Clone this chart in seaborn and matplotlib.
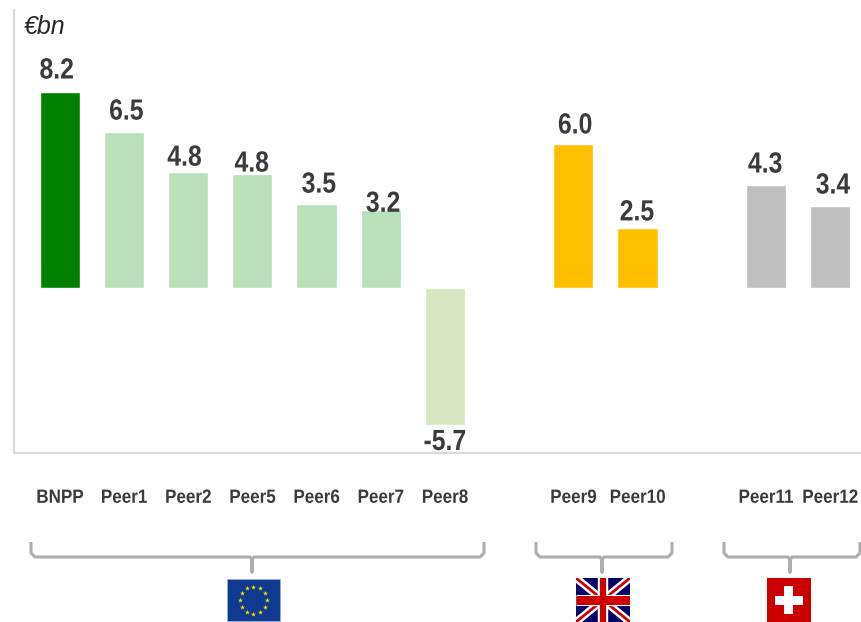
"""
Net income by bank, grouped by region: bars on top, brackets and flags below.
"""

import numpy as np
import pandas as pd
import matplotlib
matplotlib.use("Agg")
import matplotlib.pyplot as plt
from matplotlib.patches import Rectangle
from matplotlib.patheffects import AbstractPathEffect
from matplotlib.transforms import Affine2D
import seaborn as sns

EU_NAMES = ["BNPP", "Peer1", "Peer2", "Peer5", "Peer6", "Peer7", "Peer8"]
EU_VALUES = [8.2, 6.56, 4.88, 4.8, 3.54, 3.26, -5.75]
EU_LABELS = ["8.2", "6.5", "4.8", "4.8", "3.5", "3.2", "-5.7"]
UK_NAMES = ["Peer9", "Peer10"]
UK_VALUES = [6.02, 2.5]
UK_LABELS = ["6.0", "2.5"]
CH_NAMES = ["Peer11", "Peer12"]
CH_VALUES = [4.34, 3.46]
CH_LABELS = ["4.3", "3.4"]

# blank categories keep the gaps between the regions
ORDER = EU_NAMES + [" "] + UK_NAMES + ["  "] + CH_NAMES
COLORS = {
    "BNPP": "#008000", "Peer1": "#b9dfbb", "Peer2": "#b9dfbb", "Peer5": "#b9dfbb",
    "Peer6": "#b9dfbb", "Peer7": "#b9dfbb", "Peer8": "#d8e6bf",
    "Peer9": "#ffc000", "Peer10": "#ffc000", "Peer11": "#bfbfbf", "Peer12": "#bfbfbf",
}
# hand placement of the value labels in the original, in pixels
LABEL_GAPS = [14, 12, 6, 2, 11, -1.5, 3, 11, 8, 12, 12]
LABEL_SHIFTS = [-3, 2.5, -3.5, -0.5, 2.5, 2.5, 0, 2, -0.5, -0.5, 3]

TEXT = "#3b3b3b"


class Narrow(AbstractPathEffect):
    """Squeeze text sideways about its centre, no condensed font is installed."""

    def __init__(self, sx=0.85):
        super().__init__()
        self.sx = sx

    def draw_path(self, renderer, gc, tpath, affine, rgbFace=None):
        box = tpath.get_extents()
        mid = box.x0 + box.width / 2
        squeeze = Affine2D().translate(-mid, 0).scale(self.sx, 1).translate(mid, 0)
        renderer.draw_path(gc, tpath, squeeze + affine, rgbFace)


sns.set_theme(style="white")
plt.rcParams["font.family"] = ["Liberation Sans", "DejaVu Sans"]

df = pd.DataFrame({
    "name": EU_NAMES + UK_NAMES + CH_NAMES,
    "value": EU_VALUES + UK_VALUES + CH_VALUES,
    "label": EU_LABELS + UK_LABELS + CH_LABELS,
})

W, H = 862, 622
fig = plt.figure(figsize=(W / 100, H / 100), dpi=100)
ax = fig.add_axes([14 / W, 1 - 453 / H, (W - 14) / W, (453 - 10) / H])

sns.barplot(data=df, x="name", y="value", hue="name", order=ORDER,
            palette=COLORS, dodge=False, width=0.625, saturation=1,
            legend=False, ax=ax)

ax.set_xlim(-0.712, 12.498)
ax.set_ylim(-6.92, 11.66)
ax.set_xlabel("")
ax.set_ylabel("")
ax.set_yticks([])
ax.set_xticks(range(len(ORDER)))
ax.set_xticklabels(ORDER, fontsize=13.8, fontweight="bold", color=TEXT)
ax.tick_params(axis="x", length=0, pad=26.5)
for tick in ax.get_xticklabels():
    tick.set_path_effects([Narrow(0.89)])

sns.despine(ax=ax)
for side in ["left", "bottom"]:
    ax.spines[side].set_color("#d9d9d9")
    ax.spines[side].set_linewidth(1.6)

for row, gap, shift in zip(df.itertuples(), LABEL_GAPS, LABEL_SHIFTS):
    pos = ORDER.index(row.name)
    # the negative label sits on the axis line
    anchor = row.value if row.value >= 0 else ax.get_ylim()[0]
    ax.annotate(row.label, (pos, anchor), xytext=(shift * 0.72, gap * 0.72),
                textcoords="offset points", ha="center", va="baseline",
                fontsize=21, fontweight="bold", color=TEXT,
                path_effects=[Narrow()])

fig.text(24 / W, 1 - 34 / H, "€bn", fontsize=18, fontstyle="italic", color="#262626")

# overlay in pixel coordinates for the brackets and flags
over = fig.add_axes([0, 0, 1, 1], facecolor="none")
over.set_xlim(0, W)
over.set_ylim(H, 0)
over.axis("off")


def bracket(x0, x1, xm):
    top, mid, low, r = 542, 557, 572, 4
    xs = [x0, x0, x0 + r, xm - 2, xm, xm, xm, xm + 2, x1 - r, x1, x1]
    ys = [top, mid - r, mid, mid, mid + 3, low, mid + 3, mid, mid, mid - r, top]
    over.plot(xs, ys, color="#adadad", lw=2.2, solid_joinstyle="round", solid_capstyle="butt")


def eu_flag(x0, y0, x1, y1):
    over.add_patch(Rectangle((x0, y0), x1 - x0, y1 - y0, fc="#103a8f", ec="#9db2d6", lw=0.6))
    cx, cy = (x0 + x1) / 2, (y0 + y1) / 2
    ang = np.arange(12) * np.pi / 6
    over.scatter(cx + 13.5 * np.cos(ang), cy + 13.5 * np.sin(ang),
                 marker="*", s=14, color="#ffe000", linewidths=0)


def uk_flag(x0, y0, x1, y1):
    clip = Rectangle((x0, y0), x1 - x0, y1 - y0, fc="#000066", ec="none")
    over.add_patch(clip)
    cx, cy = (x0 + x1) / 2, (y0 + y1) / 2
    for xs, ys, col, lw in [
        ((x0, x1), (y0, y1), "white", 5.5),
        ((x0, x1), (y1, y0), "white", 5.5),
        ((x0, x1), (y0, y1), "#cc0000", 2),
        ((x0, x1), (y1, y0), "#cc0000", 2),
        ((x0, x1), (cy, cy), "white", 8),
        ((cx, cx), (y0, y1), "white", 7.5),
        ((x0, x1), (cy, cy), "#cc0000", 6.5),
        ((cx, cx), (y0, y1), "#cc0000", 4.5),
    ]:
        line, = over.plot(xs, ys, color=col, lw=lw, solid_capstyle="butt")
        line.set_clip_path(clip)


def ch_flag(x0, y0, x1, y1):
    over.add_patch(Rectangle((x0, y0), x1 - x0, y1 - y0, fc="#cc0000", ec="none"))
    cx, cy = (x0 + x1) / 2, (y0 + y1) / 2
    over.add_patch(Rectangle((cx - 14, cy - 4.5), 28, 9, fc="white", ec="none"))
    over.add_patch(Rectangle((cx - 4.5, cy - 14), 9, 28, fc="white", ec="none"))


bracket(31, 484, 252)
bracket(536, 672, 602)
bracket(724, 860, 790)
eu_flag(227, 579, 280, 621)
uk_flag(576, 578, 630, 622)
ch_flag(767, 578, 811, 622)

fig.savefig("out.png", dpi=100)
